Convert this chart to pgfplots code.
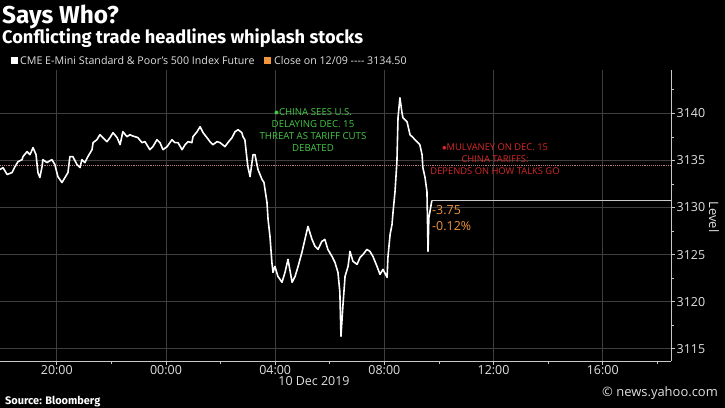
\documentclass[border=0pt]{standalone}
\usepackage{pgfplots}
\pgfplotsset{compat=1.18}
\usepackage{fontspec}
\setmainfont{Open Sans}
\newfontfamily\titlefont{Fira Sans}
\definecolor{gridc}{RGB}{62,62,62}
\definecolor{axc}{RGB}{200,200,200}
\definecolor{txt}{RGB}{225,225,225}
\definecolor{grn}{RGB}{70,200,70}
\definecolor{rd}{RGB}{215,40,40}
\definecolor{org}{RGB}{240,150,60}
\definecolor{closec}{RGB}{185,125,125}
\begin{document}
\begin{tikzpicture}
\fill[black] (0bp,0bp) rectangle (725bp,408bp);
\useasboundingbox (0bp,0bp) rectangle (725bp,408bp);
% titles
\node[anchor=base west, inner sep=0, text=white] at (2bp,384bp) {\titlefont\bfseries\fontsize{24.5}{24}\selectfont Says Who?};
\node[anchor=base west, inner sep=0, text=white] at (2bp,364bp) {\titlefont\bfseries\fontsize{18.3}{18}\selectfont Conflicting trade headlines whiplash stocks};
% legend
\fill[white] (11bp,343.5bp) rectangle (18bp,350.5bp);
\node[anchor=west, inner sep=0, text=txt] at (20bp,347bp) {\fontsize{10.7}{11}\selectfont CME E-Mini Standard \& Poor's 500 Index Future};
\fill[org] (264bp,343.5bp) rectangle (271bp,350.5bp);
\node[anchor=west, inner sep=0, text=txt] at (274bp,347bp) {\fontsize{10.7}{11}\selectfont Close on 12/09 -{}-{}-{}- 3134.50};
\begin{axis}[
  scale only axis, width=671bp, height=291bp, at={(0bp,47bp)}, anchor=south west,
  xmin=-6.08, xmax=18.5, ymin=3113.7, ymax=3144.6,
  axis x line*=bottom, axis y line*=right,
  axis line style={axc, line width=0.8pt, -},
  xtick={-4,0,4,8,12,16}, xticklabels={20:00,00:00,04:00,08:00,12:00,16:00},
  minor xtick={-2,2,6,10,14,18},
  ytick={3115,3120,3125,3130,3135,3140}, yticklabels={3115,3120,3125,3130,3135,3140},
  minor ytick={3117.5,3122.5,3127.5,3132.5,3137.5,3142.5},
  grid=major, major grid style={gridc, line width=0.7pt},
  tick align=outside, major tick length=4bp, minor tick length=3bp,
  tick style={axc, line width=0.7pt},
  ticklabel style={font=\fontsize{12.5}{12}\selectfont, text=txt, inner sep=1.5bp},
  xticklabel style={yshift=1.5bp},
  clip=false,
]
\addplot[closec, line width=0.9pt, densely dotted] coordinates {(-6.08,3134.5) (18.5,3134.5)};
\addplot[axc, line width=0.6pt] coordinates {(9.74,3130.75) (18.5,3130.75)};
\addplot[white, line width=1.6pt, line join=round] coordinates {
(-6.08,3134.03) (-5.97,3134.24) (-5.82,3133.50) (-5.64,3133.71) (-5.53,3134.34) (-5.42,3134.87)
(-5.27,3135.08) (-5.24,3135.40) (-5.09,3135.93) (-4.98,3135.61) (-4.87,3136.36) (-4.76,3135.61)
(-4.69,3133.71) (-4.62,3133.18) (-4.54,3134.34) (-4.51,3135.08) (-4.36,3134.77) (-4.18,3135.08)
(-4.07,3134.56) (-3.96,3133.28) (-3.81,3132.65) (-3.70,3133.18) (-3.59,3133.71) (-3.52,3135.40)
(-3.41,3135.40) (-3.26,3134.56) (-3.15,3134.24) (-3.08,3135.08) (-2.97,3134.77) (-2.86,3135.40)
(-2.71,3136.14) (-2.67,3136.89) (-2.53,3137.20) (-2.42,3137.73) (-2.31,3137.42) (-2.16,3136.99)
(-2.05,3137.42) (-1.94,3137.94) (-1.79,3137.42) (-1.68,3136.67) (-1.58,3138.05) (-1.43,3137.52)
(-1.32,3137.73) (-1.25,3137.63) (-1.03,3137.42) (-0.88,3136.89) (-0.77,3136.99) (-0.59,3136.14)
(-0.48,3136.46) (-0.33,3137.20) (-0.22,3136.89) (-0.11,3136.14) (0.04,3136.46) (0.22,3137.20)
(0.33,3136.89) (0.44,3136.89) (0.59,3136.14) (0.70,3136.67) (0.81,3136.99) (0.95,3136.89)
(0.99,3137.52) (1.14,3138.05) (1.25,3138.58) (1.36,3137.94) (1.50,3137.42) (1.61,3136.99)
(1.72,3136.67) (1.87,3136.99) (1.98,3136.89) (2.16,3136.46) (2.27,3136.89) (2.42,3137.42)
(2.53,3138.05) (2.64,3138.26) (2.78,3137.94) (2.82,3137.52) (2.89,3137.20) (2.97,3135.08)
(3.00,3134.34) (3.08,3133.28) (3.15,3134.77) (3.19,3135.61) (3.26,3135.61) (3.37,3134.03)
(3.52,3132.97) (3.59,3132.65) (3.70,3130.53) (3.74,3128.73) (3.81,3126.93) (3.88,3124.17)
(3.92,3123.11) (3.99,3123.75) (4.10,3122.69) (4.25,3122.06) (4.36,3123.11) (4.47,3124.49)
(4.62,3122.06) (4.73,3122.69) (4.84,3123.75) (4.98,3125.23) (5.09,3126.61) (5.20,3127.99)
(5.35,3126.61) (5.46,3125.87) (5.57,3125.55) (5.71,3126.40) (5.82,3126.61) (5.93,3125.55)
(6.08,3124.81) (6.19,3124.17) (6.30,3123.11) (6.37,3121.00) (6.41,3116.33) (6.48,3119.51)
(6.56,3122.69) (6.67,3123.75) (6.74,3125.34) (6.85,3124.28) (7.00,3123.96) (7.11,3124.70)
(7.22,3125.02) (7.36,3125.55) (7.47,3125.34) (7.58,3124.81) (7.73,3123.75) (7.84,3122.90)
(7.95,3123.43) (8.10,3122.58) (8.13,3124.70) (8.21,3127.14) (8.28,3128.20) (8.32,3129.58)
(8.39,3131.69) (8.46,3134.87) (8.50,3139.53) (8.57,3141.65) (8.64,3140.17) (8.68,3139.53)
(8.83,3139.11) (8.94,3137.73) (9.05,3137.42) (9.19,3136.99) (9.30,3136.67) (9.38,3135.61)
(9.41,3134.24) (9.49,3133.18) (9.56,3131.69) (9.60,3125.34) (9.63,3128.94) (9.67,3129.58)
(9.74,3130.75)
};
\end{axis}
% annotations
\node[align=center, text=grn, inner sep=0, font=\fontsize{9.7}{12}\selectfont] at (313bp,278bp) {$\bullet$CHINA SEES U.S.\\DELAYING DEC. 15\\THREAT AS TARIFF CUTS\\DEBATED};
\node[align=center, text=rd, inner sep=0, font=\fontsize{9.4}{12}\selectfont] at (495bp,249bp) {$\bullet$MULVANEY ON DEC. 15\\CHINA TARIFFS:\\DEPENDS ON HOW TALKS GO};
\node[anchor=west, text=org, inner sep=0, font=\fontsize{12.5}{12}\selectfont] at (432bp,198bp) {-3.75};
\node[anchor=west, text=org, inner sep=0, font=\fontsize{12.5}{12}\selectfont] at (432bp,182bp) {-0.12\%};
\node[rotate=-90, text=txt, inner sep=0, font=\fontsize{13}{12}\selectfont] at (714bp,191bp) {Level};
\node[text=txt, inner sep=0, font=\fontsize{12.5}{12}\selectfont] at (314bp,27bp) {10 Dec 2019};
\node[anchor=base west, text=white, inner sep=0] at (5bp,4bp) {\titlefont\bfseries\fontsize{11}{11}\selectfont Source: Bloomberg};
\node[anchor=east, text=txt, inner sep=0, font=\fontsize{13}{13}\selectfont] at (718bp,15bp) {\char"00A9{} news.yahoo.com};
\end{tikzpicture}
\end{document}
